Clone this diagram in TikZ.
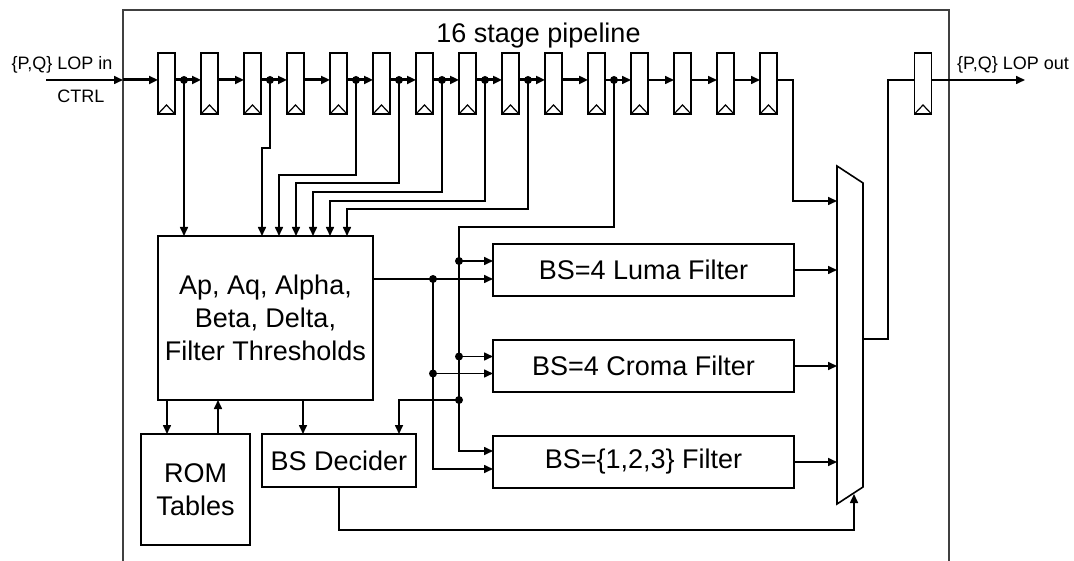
\documentclass[tikz,border=0pt]{standalone}
\usepackage{fontspec}
\setmainfont{Liberation Sans}
\usetikzlibrary{arrows.meta,positioning}
\newcommand{\boxfont}{\fontsize{27}{33}\selectfont}
\newcommand{\labfont}{\fontsize{18}{21}\selectfont}

\begin{document}
\begin{tikzpicture}[
  x=1pt,y=-1pt,
  line width=1.6pt,
  reg/.style={
    draw,
    minimum width=17pt,
    minimum height=61pt,
    inner sep=0pt,
    outer sep=0pt,
    path picture={\draw[line width=1.2pt]
      (path picture bounding box.south west)
      -- ([yshift=9pt]path picture bounding box.south)
      -- (path picture bounding box.south east);}
  },
  blk/.style={draw,align=center,inner sep=0pt,outer sep=0pt,font=\boxfont},
  arr/.style={-{Triangle[length=9pt,width=8pt]}},
  bus/.style={arr,line width=3pt},
  lab/.style={font=\labfont,anchor=base}
]
\useasboundingbox (0,0) rectangle (1074,561);

% frame and title
\draw[black!75] (123,561) -- (123,10) -- (949,10) -- (949,561);
\node[font=\boxfont,anchor=base] (title) at (538.5,43) {16 stage pipeline};

% pipeline registers
\node[reg] (r1) at (166.5,83.5) {};
\foreach \k [remember=\k as \j (initially 1)] in {2,...,15}
  \node[reg,right=26pt of r\j] (r\k) {};
\node[reg] (rout) at (923,83.5) {};

\coordinate (pin) at (46,80);
\coordinate (fin) at (123,80);
\coordinate (pout) at (1025,80);
\node[lab] (lin) at (62,70) {\{P,Q\} LOP in};
\node[lab] (ctrl) at (81,103) {CTRL};
\node[lab] (lout) at (1013,70) {\{P,Q\} LOP out};

\draw[arr] (pin) -- (fin);
\draw[bus] (fin) -- ([yshift=3.5pt]r1.west);
\foreach \k [count=\n from 2] in {1,...,10}
  \draw[bus] ([yshift=3.5pt]r\k.east) -- ([yshift=3.5pt]r\n.west);
\foreach \k [count=\n from 12] in {11,...,14}
  \draw[arr] ([yshift=3.5pt]r\k.east) -- ([yshift=3.5pt]r\n.west);
\draw[arr] ([yshift=3.5pt]rout.east) -- (pout);

% blocks
\node[blk,minimum width=215pt,minimum height=164pt] (ap) at (265.5,318)
  {Ap, Aq, Alpha,\\Beta, Delta,\\Filter Thresholds};
\node[blk,minimum width=109pt,minimum height=111pt] (rom) at (195.5,489.5)
  {ROM\\Tables};
\node[blk,minimum width=154pt,minimum height=53pt] (dec) at (339,460.5)
  {BS Decider};
\node[blk,minimum width=301pt,minimum height=52pt] (luma) at (643.5,270)
  {BS=4 Luma Filter};
\node[blk,minimum width=301pt,minimum height=52pt,below=44pt of luma]
  (croma) {BS=4 Croma Filter};
\node[blk,minimum width=301pt,minimum height=52pt,below=44pt of croma]
  (bsf) {BS=\{1,2,3\} Filter};

% mux
\coordinate (mxl) at (837,0);
\coordinate (m0) at (837,201);
\coordinate (mo) at (863,339);
\coordinate (msel) at (854,494);
\draw (837,166) -- (863,183) -- (863,487) -- (837,504) -- cycle;

% taps from the pipeline
\foreach \k in {1,3,5,6,7,8,9,11}
  \coordinate (t\k) at ([xshift=9pt,yshift=3.5pt]r\k.east);
\draw[arr] (t1) -- (t1 |- ap.north);
\foreach \t/\d [count=\i, evaluate=\i as \xs using 87+17*\i] in
    {3/68,5/95,6/103,7/112,8/121,9/129}
  \draw[arr] (t\t) -- ++(0,\d) -| ([xshift=\xs pt]ap.north west);

% filter inputs
\coordinate (lu1) at ([yshift=9pt]luma.west);
\coordinate (lu2) at ([yshift=-9pt]luma.west);
\coordinate (cr1) at ([yshift=9.5pt]croma.west);
\coordinate (cr2) at ([yshift=-7.5pt]croma.west);
\coordinate (bs1) at ([yshift=11pt]bsf.west);
\coordinate (bs2) at ([yshift=-7pt]bsf.west);
\coordinate (sb) at (459,227);
\coordinate (sd) at (459,400);
\coordinate (ja) at (433,279);

\draw[arr] (t11) |- (sb) |- (bs1);
\draw[arr] (sb |- lu1) -- (lu1);
\draw[arr] (sb |- cr1) -- (cr1);
\draw[arr] ([yshift=39pt]ap.east) -- (lu2);
\draw[arr] (ja) |- (cr2);
\draw[arr] (ja) |- (bs2);
\draw[arr] (sd) -| ([xshift=60pt]dec.north);

% ROM and decider
\draw[arr] ([xshift=9pt]ap.south west) -- ([xshift=9pt]ap.south west |- rom.north);
\draw[arr] ([xshift=22.5pt]rom.north) -- ([xshift=22.5pt]rom.north |- ap.south);
\draw[arr] ([xshift=-36pt]dec.north |- ap.south) -- ([xshift=-36pt]dec.north);
\draw[arr] (dec.south) -- ++(0,43) -| (msel);

% into and out of the mux
\draw[arr] ([yshift=3.5pt]r15.east) -| ([xshift=-44pt]m0) -- (m0);
\draw[arr] (luma.east) -- (luma.east -| mxl);
\draw[arr] (croma.east) -- (croma.east -| mxl);
\draw[arr] (bsf.east) -- (bsf.east -| mxl);
\draw (mo) -- ++(25,0) |- ([yshift=3.5pt]rout.west);

% junction dots
\foreach \p in {t1,t3,t5,t6,t7,t8,t9,t11,ja,sd}
  \fill (\p) circle (4pt);
\fill (sb |- lu1) circle (4pt);
\fill (sb |- cr1) circle (4pt);
\fill (ja |- cr2) circle (4pt);
\end{tikzpicture}
\end{document}
